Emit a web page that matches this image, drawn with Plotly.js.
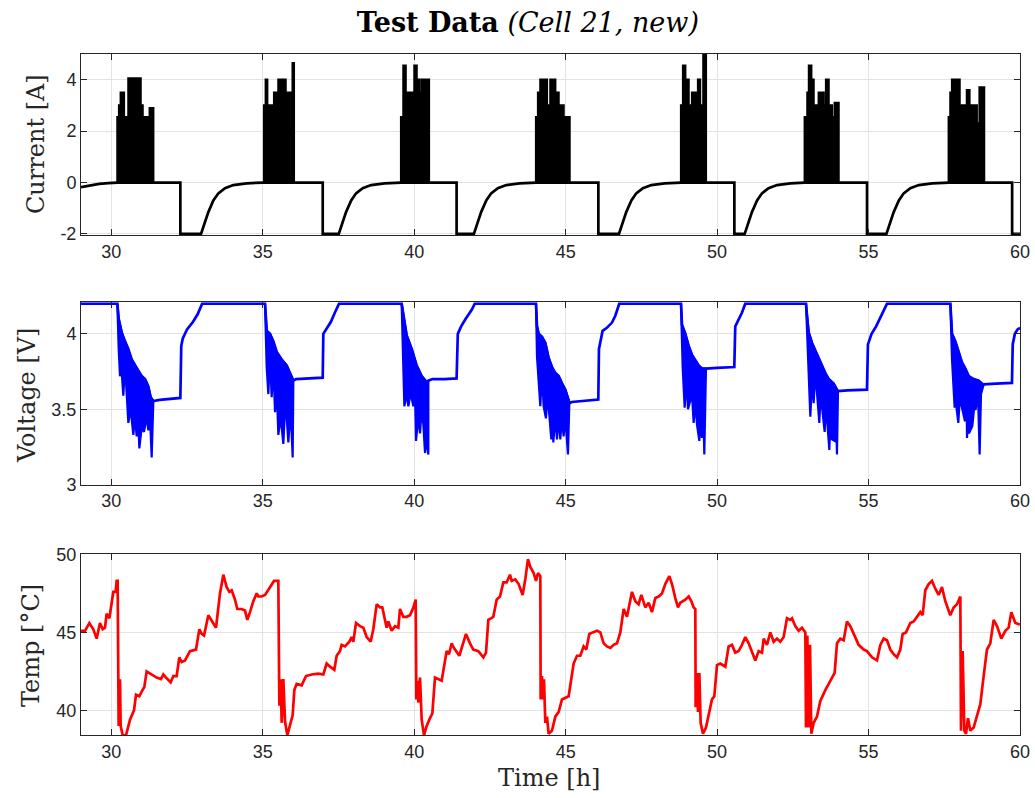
<!DOCTYPE html>
<html>
<head>
<meta charset="utf-8">
<script src="https://cdn.plot.ly/plotly-3.0.1.min.js"></script>
<style>html,body{margin:0;padding:0;background:#fff;}#chart{width:1035px;height:798px;}</style>
</head>
<body>
<div id="chart"></div>
<script>
// ---------------- DATA ----------------
const timeTicks = [30, 35, 40, 45, 50, 55, 60];
const currentTicks = [-2, 0, 2, 4];
const voltageTicks = [3, 3.5, 4];
const tempTicks = [40, 45, 50];

// Current: rest / charge profile (bursts drawn separately)
const curT = [29.0, 29.3, 29.6, 29.9, 30.2, 32.28, 32.28, 32.962, 33.094, 33.204, 33.369, 33.534, 33.754, 34.029, 34.469, 35.019,
  36.98, 36.98, 37.51, 37.64, 37.75, 37.92, 38.08, 38.30, 38.58, 39.02, 39.565,
  41.40, 41.40, 41.97, 42.10, 42.21, 42.38, 42.54, 42.76, 43.04, 43.48, 44.02,
  46.08, 46.08, 46.76, 46.89, 47.00, 47.17, 47.33, 47.55, 47.83, 48.27, 48.81,
  50.57, 50.57, 50.91, 51.04, 51.15, 51.32, 51.48, 51.70, 51.98, 52.42, 52.89,
  54.95, 54.95, 55.59, 55.72, 55.83, 56.00, 56.16, 56.38, 56.66, 57.10, 57.645,
  59.74, 59.74, 60.0];
const curA = [-0.18, -0.10, -0.05, -0.02, 0, 0, -2, -2, -1.55, -1.15, -0.70, -0.42, -0.22, -0.10, -0.03, 0,
  0, -2, -2, -1.55, -1.15, -0.70, -0.42, -0.22, -0.10, -0.03, 0,
  0, -2, -2, -1.55, -1.15, -0.70, -0.42, -0.22, -0.10, -0.03, 0,
  0, -2, -2, -1.55, -1.15, -0.70, -0.42, -0.22, -0.10, -0.03, 0,
  0, -2, -2, -1.55, -1.15, -0.70, -0.42, -0.22, -0.10, -0.03, 0,
  0, -2, -2, -1.55, -1.15, -0.70, -0.42, -0.22, -0.10, -0.03, 0,
  0, -2, -2];

// Current pulse bursts: step boundaries (times) and envelope level of each step
const burstStepT = [
  [30.20, 30.255, 30.31, 30.42, 30.563, 30.64, 30.673, 30.794, 30.838, 30.97, 31.036, 31.267, 31.388],
  [35.042, 35.097, 35.15, 35.263, 35.296, 35.373, 35.461, 35.515, 35.625, 35.681, 35.757, 35.812, 35.985, 36.03],
  [39.565, 39.642, 39.72, 39.80, 39.85, 39.939, 40.005, 40.082, 40.17, 40.247, 40.489],
  [44.021, 44.087, 44.164, 44.384, 44.494, 44.659, 44.769, 44.934, 45.132],
  [48.808, 48.874, 48.951, 49.061, 49.171, 49.369, 49.44, 49.545, 49.633],
  [52.891, 52.979, 53.03, 53.111, 53.188, 53.298, 53.353, 53.518, 53.595, 53.683, 53.793, 53.881, 54.013],
  [57.645, 57.70, 57.755, 58.008, 58.245, 58.333, 58.575, 58.663, 58.817]
];
const burstStepA = [
  [2.55, 3.0, 3.5, 2.55, 4.05, 3.5, 4.05, 3.0, 4.05, 3.0, 2.55, 2.9],
  [3.0, 4.0, 3.0, 2.1, 3.0, 3.5, 3.0, 4.0, 3.5, 4.0, 3.0, 3.5, 4.65],
  [2.55, 4.55, 3.5, 2.6, 3.5, 2.0, 4.55, 4.0, 3.5, 4.0],
  [2.55, 3.5, 4.0, 3.0, 4.0, 3.5, 3.0, 2.55],
  [3.0, 4.55, 4.0, 3.0, 3.5, 4.0, 3.0, 5.0],
  [2.55, 3.5, 4.55, 4.0, 3.0, 2.0, 3.5, 3.0, 4.0, 3.0, 2.55, 3.1],
  [2.55, 3.5, 4.0, 3.0, 3.6, 3.0, 2.3, 3.7]
];

// Voltage: main trace (upper envelope during bursts)
const voltT = [29.0, 30.20, 30.244, 30.343, 30.453, 30.563, 30.673, 30.783, 30.893, 31.003, 31.113, 31.223, 31.30, 31.388,
  31.6, 32.0, 32.28, 32.31, 32.36, 32.5, 32.7, 32.85, 33.0,
  35.075, 35.13, 35.24, 35.35, 35.46, 35.625, 35.79, 35.955, 36.01,
  36.1, 36.5, 36.98, 37.00, 37.1, 37.25, 37.38, 37.52,
  39.586, 39.642, 39.752, 39.917, 40.082, 40.247, 40.412, 40.467,
  40.6, 41.0, 41.40, 41.44, 41.55, 41.7, 41.9, 42.0,
  44.021, 44.054, 44.109, 44.219, 44.329, 44.439, 44.549, 44.659, 44.769, 44.879, 44.989, 45.099, 45.121,
  45.2, 45.6, 46.078, 46.10, 46.22, 46.36, 46.53, 46.64, 46.77,
  48.808, 48.841, 48.951, 49.061, 49.171, 49.281, 49.391, 49.501, 49.633,
  50.0, 50.568, 50.60, 50.71, 50.82, 50.93,
  52.935, 52.968, 53.023, 53.133, 53.243, 53.353, 53.463, 53.573, 53.683, 53.848, 53.958, 53.991,
  54.3, 54.948, 54.98, 55.1, 55.25, 55.42, 55.61,
  57.701, 57.755, 57.865, 57.975, 58.085, 58.195, 58.305, 58.47, 58.635, 58.745, 58.80,
  59.2, 59.735, 59.76, 59.83, 59.92, 60.0];
const voltV = [4.2, 4.2, 4.10, 4.01, 3.95, 3.90, 3.83, 3.79, 3.75, 3.72, 3.70, 3.65, 3.58, 3.555,
  3.562, 3.568, 3.575, 3.92, 3.97, 4.03, 4.08, 4.13, 4.2,
  4.2, 4.02, 4.0, 3.95, 3.88, 3.83, 3.79, 3.71, 3.69,
  3.70, 3.705, 3.71, 4.0, 4.03, 4.08, 4.14, 4.2,
  4.2, 4.12, 3.99, 3.9, 3.79, 3.72, 3.68, 3.69,
  3.70, 3.70, 3.705, 4.0, 4.05, 4.1, 4.16, 4.2,
  4.2, 4.05, 4.0, 3.98, 3.94, 3.84, 3.78, 3.74, 3.72, 3.67, 3.63, 3.56, 3.54,
  3.548, 3.558, 3.565, 3.90, 4.02, 4.04, 4.075, 4.12, 4.2,
  4.2, 4.06, 4.0, 3.92, 3.86, 3.82, 3.79, 3.77, 3.77,
  3.775, 3.78, 4.05, 4.09, 4.14, 4.2,
  4.2, 4.12, 4.01, 3.94, 3.89, 3.83, 3.79, 3.74, 3.70, 3.67, 3.63, 3.62,
  3.625, 3.63, 3.93, 4.0, 4.05, 4.12, 4.2,
  4.2, 4.0, 3.95, 3.88, 3.81, 3.77, 3.72, 3.70, 3.69, 3.67, 3.665,
  3.67, 3.675, 3.93, 4.0, 4.03, 4.04];

// Voltage bursts: lower edge of the dense dips
const vLowT = [
  [30.20, 30.244, 30.288, 30.343, 30.398, 30.453, 30.563, 30.64, 30.728, 30.783, 30.838, 30.893, 30.926, 31.003, 31.08, 31.168, 31.223, 31.278, 31.333, 31.388],
  [35.075, 35.13, 35.185, 35.24, 35.295, 35.35, 35.405, 35.46, 35.515, 35.59, 35.68, 35.735, 35.79, 35.845, 35.92, 35.988, 36.01],
  [39.586, 39.642, 39.675, 39.752, 39.807, 39.884, 39.972, 40.027, 40.06, 40.137, 40.192, 40.247, 40.302, 40.357, 40.412, 40.467],
  [44.021, 44.054, 44.164, 44.219, 44.274, 44.35, 44.405, 44.439, 44.527, 44.571, 44.593, 44.659, 44.714, 44.769, 44.824, 44.879, 44.934, 44.989, 45.077, 45.121],
  [48.808, 48.863, 48.929, 48.984, 49.039, 49.116, 49.171, 49.226, 49.281, 49.336, 49.413, 49.457, 49.501, 49.545, 49.578, 49.633],
  [52.935, 53.0, 53.078, 53.133, 53.188, 53.243, 53.298, 53.375, 53.419, 53.463, 53.551, 53.595, 53.628, 53.705, 53.749, 53.793, 53.881, 53.925, 53.958, 53.991],
  [57.701, 57.755, 57.843, 57.887, 57.909, 57.964, 58.019, 58.074, 58.184, 58.239, 58.25, 58.294, 58.316, 58.426, 58.481, 58.536, 58.613, 58.668, 58.712, 58.80]
];
const vLowV = [
  [4.2, 3.9, 3.72, 3.75, 3.59, 3.80, 3.41, 3.50, 3.33, 3.45, 3.32, 3.40, 3.24, 3.38, 3.35, 3.45, 3.36, 3.45, 3.18, 3.555],
  [4.2, 3.78, 3.60, 3.85, 3.58, 3.80, 3.48, 3.65, 3.33, 3.45, 3.27, 3.50, 3.45, 3.28, 3.50, 3.18, 3.69],
  [4.2, 3.85, 3.52, 3.60, 3.52, 3.61, 3.52, 3.60, 3.29, 3.45, 3.34, 3.50, 3.40, 3.21, 3.30, 3.20],
  [4.2, 3.85, 3.52, 3.75, 3.52, 3.44, 3.60, 3.52, 3.30, 3.45, 3.28, 3.45, 3.30, 3.45, 3.30, 3.45, 3.32, 3.45, 3.20, 3.54],
  [4.2, 3.78, 3.51, 3.70, 3.50, 3.55, 3.60, 3.41, 3.55, 3.40, 3.29, 3.45, 3.31, 3.50, 3.20, 3.77],
  [4.2, 3.84, 3.45, 3.70, 3.54, 3.75, 3.61, 3.41, 3.60, 3.54, 3.35, 3.55, 3.44, 3.23, 3.45, 3.30, 3.29, 3.45, 3.20, 3.62],
  [4.2, 3.83, 3.51, 3.70, 3.50, 3.41, 3.60, 3.52, 3.42, 3.55, 3.31, 3.45, 3.34, 3.39, 3.50, 3.50, 3.60, 3.20, 3.60, 3.665]
];

// Temperature
const tempT = [29.000, 29.132, 29.275, 29.407, 29.517, 29.627, 29.715, 29.792, 29.847, 29.935, 29.990, 30.067, 30.144, 30.177, 30.210,
  30.221, 30.243, 30.287, 30.310, 30.376, 30.486, 30.618, 30.750, 30.816, 30.926, 31.003, 31.091, 31.168, 31.333, 31.498,
  31.641, 31.718, 31.806, 31.960, 32.048, 32.158, 32.246, 32.323, 32.433, 32.599, 32.797, 32.907, 32.984, 33.061, 33.204,
  33.369, 33.457, 33.589, 33.699, 33.809, 33.897, 33.974, 34.084, 34.161, 34.304, 34.414, 34.491, 34.579, 34.689, 34.800,
  34.855, 34.965, 35.075, 35.240, 35.372, 35.515, 35.548, 35.592, 35.625, 35.680, 35.735, 35.812, 35.900, 35.988, 36.043,
  36.120, 36.285, 36.428, 36.615, 36.835, 37.000, 37.110, 37.220, 37.363, 37.440, 37.550, 37.605, 37.715, 37.858, 37.935,
  37.990, 38.079, 38.211, 38.321, 38.431, 38.563, 38.651, 38.761, 38.871, 38.948, 39.091, 39.146, 39.256, 39.366, 39.476,
  39.531, 39.641, 39.752, 39.862, 39.972, 40.049, 40.071, 40.104, 40.137, 40.192, 40.247, 40.324, 40.412, 40.522, 40.599,
  40.687, 40.797, 40.907, 41.072, 41.149, 41.237, 41.314, 41.490, 41.710, 41.842, 41.952, 42.117, 42.283, 42.371, 42.448,
  42.536, 42.613, 42.723, 42.833, 42.943, 43.053, 43.163, 43.218, 43.338, 43.448, 43.580, 43.668, 43.756, 43.833, 43.944,
  44.021, 44.087, 44.164, 44.175, 44.219, 44.252, 44.285, 44.329, 44.384, 44.439, 44.549, 44.659, 44.769, 44.879, 44.989,
  45.099, 45.264, 45.374, 45.484, 45.594, 45.682, 45.781, 45.891, 46.034, 46.145, 46.255, 46.365, 46.475, 46.585, 46.695,
  46.805, 46.915, 47.025, 47.190, 47.300, 47.410, 47.498, 47.630, 47.740, 47.850, 47.960, 48.070, 48.180, 48.290, 48.423,
  48.511, 48.621, 48.709, 48.786, 48.951, 49.061, 49.149, 49.226, 49.281, 49.292, 49.336, 49.369, 49.413, 49.457, 49.534,
  49.633, 49.721, 49.831, 49.908, 49.996, 50.106, 50.271, 50.381, 50.491, 50.601, 50.711, 50.821, 50.932, 51.042, 51.152,
  51.262, 51.372, 51.482, 51.537, 51.647, 51.757, 51.867, 51.977, 52.087, 52.197, 52.307, 52.417, 52.472, 52.582, 52.692,
  52.803, 52.913, 52.935, 52.979, 53.023, 53.067, 53.111, 53.188, 53.298, 53.408, 53.573, 53.738, 53.881, 53.958, 54.068,
  54.178, 54.288, 54.398, 54.508, 54.673, 54.838, 54.948, 55.113, 55.279, 55.389, 55.499, 55.609, 55.719, 55.829, 55.939,
  56.049, 56.126, 56.236, 56.379, 56.489, 56.599, 56.709, 56.786, 56.874, 56.984, 57.094, 57.204, 57.314, 57.424, 57.534,
  57.699, 57.809, 57.919, 58.030, 58.052, 58.107, 58.162, 58.217, 58.283, 58.360, 58.470, 58.580, 58.690, 58.800, 58.910,
  59.020, 59.130, 59.240, 59.383, 59.515, 59.625, 59.713, 59.845, 60.000];
const tempC = [45.1, 45.1, 45.6, 45.2, 44.6, 45.6, 45.2, 45.3, 46.2, 45.9, 46.6, 47.6, 47.6, 48.3, 48.3,
  42.0, 39.0, 42.0, 39.0, 38.4, 38.4, 39.4, 40.0, 41.0, 40.9, 41.2, 41.5, 42.5, 42.3, 42.1,
  42.0, 42.3, 42.1, 41.8, 42.2, 42.2, 43.4, 43.1, 43.2, 43.8, 43.9, 45.2, 44.9, 44.8, 46.1,
  45.6, 45.3, 47.5, 48.7, 47.9, 47.6, 47.7, 47.1, 46.5, 46.5, 46.4, 45.8, 46.3, 47.0, 47.5,
  47.3, 47.3, 47.4, 47.9, 48.3, 48.3, 40.3, 42.0, 39.2, 42.0, 39.3, 38.4, 39.0, 39.7, 41.3,
  41.7, 41.6, 42.2, 42.3, 42.35, 42.3, 43.0, 42.8, 42.6, 43.5, 43.8, 44.2, 44.1, 44.4, 44.7,
  44.4, 45.6, 45.4, 45.3, 44.7, 44.4, 45.2, 46.8, 46.6, 46.6, 45.3, 45.7, 45.1, 45.4, 45.3,
  46.5, 46.0, 46.0, 46.1, 46.6, 47.1, 40.7, 41.9, 40.5, 42.1, 39.4, 38.4, 39.0, 39.5, 39.8,
  42.1, 42.0, 41.9, 43.8, 43.6, 44.3, 44.0, 43.5, 44.9, 44.3, 43.9, 43.8, 43.4, 43.7, 45.8,
  45.9, 46.0, 47.1, 47.3, 48.2, 48.2, 48.7, 48.3, 48.4, 48.1, 47.4, 48.4, 49.7, 49.2, 48.8,
  48.3, 48.8, 48.6, 40.7, 42.2, 40.7, 42.0, 39.2, 39.6, 38.5, 38.7, 39.6, 39.9, 40.7, 40.8,
  40.9, 43.0, 43.5, 43.5, 44.1, 43.9, 44.9, 45.0, 45.1, 45.0, 44.3, 44.1, 44.0, 44.2, 44.3,
  45.0, 46.5, 46.0, 47.6, 47.0, 46.8, 47.4, 46.6, 46.9, 46.3, 47.2, 47.3, 47.5, 48.1, 48.6,
  48.1, 47.2, 46.6, 46.9, 47.1, 47.3, 47.0, 46.6, 46.5, 40.2, 42.4, 39.9, 42.4, 39.2, 38.5,
  38.9, 39.8, 40.7, 40.9, 42.9, 43.0, 42.8, 44.1, 44.2, 43.7, 43.8, 44.2, 44.7, 44.3, 43.7,
  43.2, 43.8, 43.7, 44.6, 44.2, 45.0, 44.4, 44.6, 44.4, 44.7, 45.9, 45.8, 45.9, 45.4, 45.1,
  45.3, 45.0, 38.9, 44.8, 38.9, 44.2, 38.5, 39.2, 39.6, 40.6, 41.3, 41.9, 42.4, 44.3, 44.6,
  44.5, 45.7, 45.4, 44.9, 44.2, 43.9, 43.8, 43.4, 43.2, 44.2, 44.6, 44.5, 43.9, 43.6, 43.4,
  43.9, 44.9, 45.0, 45.6, 45.7, 46.0, 46.3, 46.1, 47.7, 48.1, 48.3, 47.8, 47.4, 47.9, 47.0,
  46.1, 46.6, 46.8, 47.3, 38.7, 43.8, 38.7, 38.5, 39.5, 38.7, 38.9, 39.6, 40.4, 42.2, 43.9,
  44.3, 45.8, 45.4, 44.6, 45.1, 45.3, 46.3, 45.6, 45.5];

// ---------------- BUILD ----------------
const LW = 2.7;
const traces = [];
traces.push({x: curT, y: curA, xaxis: 'x', yaxis: 'y', mode: 'lines', line: {color: '#000000', width: LW}, hoverinfo: 'skip'});
burstStepT.forEach((bt, k) => {
  const lv = burstStepA[k];
  const px = [bt[0]], py = [0];
  for (let i = 0; i < lv.length; i++) { px.push(bt[i], bt[i + 1]); py.push(lv[i], lv[i]); }
  px.push(bt[bt.length - 1]); py.push(0);
  traces.push({x: px, y: py, xaxis: 'x', yaxis: 'y', mode: 'lines', fill: 'toself', fillcolor: '#000000',
    line: {color: '#000000', width: 2.2}, hoverinfo: 'skip'});
});
traces.push({x: voltT, y: voltV, xaxis: 'x2', yaxis: 'y2', mode: 'lines', line: {color: '#0000ff', width: LW}, hoverinfo: 'skip'});
vLowT.forEach((lt, k) => {
  const t0 = lt[0], t1 = lt[lt.length - 1];
  const px = [], py = [];
  voltT.forEach((t, i) => { if (t >= t0 && t <= t1) { px.push(t); py.push(voltV[i]); } });
  for (let i = lt.length - 1; i >= 0; i--) { px.push(lt[i]); py.push(vLowV[k][i]); }
  traces.push({x: px, y: py, xaxis: 'x2', yaxis: 'y2', mode: 'lines', fill: 'toself', fillcolor: '#0000ff',
    line: {color: '#0000ff', width: 2.2}, hoverinfo: 'skip'});
});
traces.push({x: tempT, y: tempC, xaxis: 'x3', yaxis: 'y3', mode: 'lines', line: {color: '#ff0000', width: LW}, hoverinfo: 'skip'});

const axCol = '#262626';
const tickFont = {family: 'Liberation Sans, Arial, sans-serif', size: 18, color: axCol};
function xAx(anchor) {
  return {domain: [0, 1], anchor: anchor, range: [29, 60], tickvals: timeTicks, ticktext: timeTicks.map(String),
    showgrid: true, gridcolor: '#e3e3e3', gridwidth: 1, zeroline: false, showline: true, linecolor: axCol, linewidth: 1,
    mirror: 'ticks', ticks: 'inside', ticklen: 6, tickcolor: axCol, tickwidth: 1, tickfont: tickFont};
}
function yAx(anchor, dom, rng, tv) {
  return {domain: dom, anchor: anchor, range: rng, tickvals: tv, ticktext: tv.map(String),
    showgrid: true, gridcolor: '#e3e3e3', gridwidth: 1, zeroline: false, showline: true, linecolor: axCol, linewidth: 1,
    mirror: 'ticks', ticks: 'inside', ticklen: 6, tickcolor: axCol, tickwidth: 1, tickfont: tickFont};
}
const serif = 'DejaVu Serif, serif';
const labFont = {family: serif, size: 24, color: axCol};
const layout = {
  width: 1035, height: 798,
  margin: {l: 81, r: 15, t: 54, b: 63},
  paper_bgcolor: '#ffffff', plot_bgcolor: '#ffffff',
  showlegend: false,
  title: {text: '<b>Test Data</b> <i>(Cell 21, new)</i>', font: {family: serif, size: 27, color: '#000000'},
    xref: 'container', x: 0.510, xanchor: 'center', yref: 'container', y: 0.972, yanchor: 'middle'},
  xaxis: xAx('y'), xaxis2: xAx('y2'), xaxis3: xAx('y3'),
  yaxis: yAx('x', [0.7337, 1], [-2.055, 5], currentTicks),
  yaxis2: yAx('x2', [0.3676, 0.6353], [3, 4.209], voltageTicks),
  yaxis3: yAx('x3', [0, 0.2652], [38.42, 50], tempTicks),
  annotations: [
    {text: 'Current [A]', xref: 'paper', yref: 'paper', x: -0.0479, y: 0.8678, textangle: -90, showarrow: false, xanchor: 'center', yanchor: 'middle', font: labFont},
    {text: 'Voltage [V]', xref: 'paper', yref: 'paper', x: -0.0575, y: 0.4978, textangle: -90, showarrow: false, xanchor: 'center', yanchor: 'middle', font: labFont},
    {text: 'Temp [°C]', xref: 'paper', yref: 'paper', x: -0.0532, y: 0.1307, textangle: -90, showarrow: false, xanchor: 'center', yanchor: 'middle', font: labFont},
    {text: 'Time [h]', xref: 'paper', yref: 'paper', x: 0.4984, y: -0.0631, showarrow: false, xanchor: 'center', yanchor: 'middle', font: labFont}
  ]
};
Plotly.newPlot('chart', traces, layout, {displayModeBar: false, staticPlot: true});
</script>
</body>
</html>
